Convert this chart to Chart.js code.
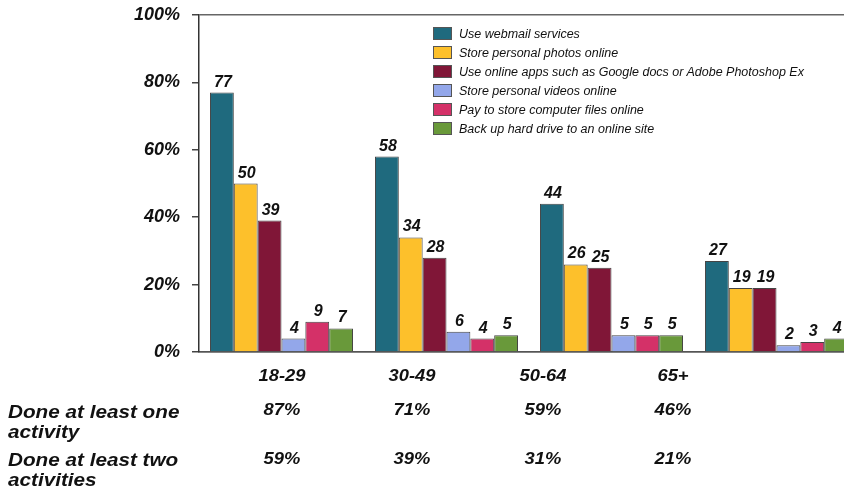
<!DOCTYPE html>
<html>
<head>
<meta charset="utf-8">
<script src="https://cdn.jsdelivr.net/npm/chart.js@4.4.0/dist/chart.umd.min.js"></script>
<style>
    html, body { margin: 0; padding: 0; overflow: hidden; background: #fff; }
    #wrap { position: relative; width: 844px; height: 488px; overflow: hidden; font-family: "Liberation Sans", Arial, sans-serif; color: #111; }
    #chart { position: absolute; left: 0; top: 0; }
    #legend { position: absolute; left: 433px; top: 24px; }
    .lg { height: 19px; display: flex; align-items: center; font-size: 12.5px; font-style: italic; white-space: nowrap; }
    .lg span.box { display: inline-block; width: 17px; height: 11px; border: 1px solid #555; margin-right: 7px; }
    .t { position: absolute; font-size: 17px; font-weight: bold; font-style: italic; white-space: nowrap; line-height: 20px; }
    .c { transform: translate(-50%, -50%) scaleX(1.08); }
    .r { font-size: 18px; transform: scaleX(1.15); transform-origin: left center; }
</style>
</head>
<body>
<div id="wrap">
    <canvas id="chart" width="860" height="488"></canvas>
    <div id="legend"></div>
</div>
<script>
// categories and series
const categories = ["18-29", "30-49", "50-64", "65+"];
const webmail = [77, 58, 44, 27];
const photos = [50, 34, 26, 19];
const onlineApps = [39, 28, 25, 19];
const videos = [4, 6, 5, 2];
const payFiles = [9, 4, 5, 3];
const backup = [7, 5, 5, 4];
const yTicks = [0, 20, 40, 60, 80, 100];

// table below the chart
const doneOne = [87, 71, 59, 46];
const doneTwo = [59, 39, 31, 21];

const series = [
    { label: "Use webmail services", data: webmail, color: "#1f6a7e" },
    { label: "Store personal photos online", data: photos, color: "#fdc02b" },
    { label: "Use online apps such as Google docs or Adobe Photoshop Ex", data: onlineApps, color: "#801637" },
    { label: "Store personal videos online", data: videos, color: "#93a7ea" },
    { label: "Pay to store computer files online", data: payFiles, color: "#d43168" },
    { label: "Back up hard drive to an online site", data: backup, color: "#69993a" }
];

const FONT = '"Liberation Sans", Arial, sans-serif';

// value labels on top of bars
const valueLabels = {
    id: "valueLabels",
    afterDatasetsDraw(chart) {
        const ctx = chart.ctx;
        ctx.save();
        ctx.font = "italic bold 16px " + FONT;
        ctx.fillStyle = "#111";
        ctx.textAlign = "center";
        ctx.textBaseline = "alphabetic";
        chart.data.datasets.forEach((ds, i) => {
            chart.getDatasetMeta(i).data.forEach((bar, j) => {
                ctx.fillText(ds.data[j], bar.x + 1, bar.y - 6);
            });
        });
        ctx.restore();
    }
};

const chart = new Chart(document.getElementById("chart"), {
    type: "bar",
    data: {
        labels: categories,
        datasets: series.map(s => ({
            label: s.label,
            data: s.data,
            backgroundColor: s.color,
            borderColor: "#444",
            borderWidth: 1,
            categoryPercentage: 0.867,
            barPercentage: 1
        }))
    },
    options: {
        responsive: false,
        animation: false,
        layout: { padding: { left: 0, right: 1, top: 15, bottom: 0 } },
        plugins: {
            legend: { display: false },
            tooltip: { enabled: false }
        },
        scales: {
            x: {
                grid: { display: false },
                border: { color: "#555", width: 1.5 },
                ticks: { display: false },
                afterFit(scale) { scale.height = 136; }
            },
            y: {
                min: 0,
                max: 100,
                afterBuildTicks(scale) { scale.ticks = yTicks.map(v => ({ value: v })); },
                afterFit(scale) {
                    scale.width = 199;
                    scale.paddingTop = 0;
                    scale.paddingBottom = 0;
                },
                border: { color: "#333", width: 1.5 },
                grid: {
                    drawOnChartArea: true,
                    color: c => (c.tick && (c.tick.value === 100 || c.tick.value === 0)) ? "#666" : "rgba(0,0,0,0)",
                    lineWidth: 1.5,
                    tickColor: "#444",
                    tickLength: 7
                },
                ticks: {
                    padding: 12,
                    color: "#111",
                    font: { family: FONT, size: 18, weight: "bold", style: "italic" },
                    callback: v => v + "%"
                }
            }
        }
    },
    plugins: [valueLabels]
});

// legend
const legend = document.getElementById("legend");
series.forEach(s => {
    const row = document.createElement("div");
    row.className = "lg";
    row.innerHTML = '<span class="box" style="background:' + s.color + '"></span>' + s.label;
    legend.appendChild(row);
});

// table below the chart
const wrap = document.getElementById("wrap");
const colX = [282, 412, 543, 673];
function addText(text, x, y, cls) {
    const d = document.createElement("div");
    d.className = "t " + cls;
    d.style.left = x + "px";
    d.style.top = y + "px";
    d.textContent = text;
    wrap.appendChild(d);
}
categories.forEach((c, i) => addText(c, colX[i], 376, "c"));
addText("Done at least one", 8, 402, "r");
addText("activity", 8, 422, "r");
addText("Done at least two", 8, 450, "r");
addText("activities", 8, 470, "r");
doneOne.forEach((v, i) => addText(v + "%", colX[i], 410, "c"));
doneTwo.forEach((v, i) => addText(v + "%", colX[i], 459, "c"));
</script>
</body>
</html>
